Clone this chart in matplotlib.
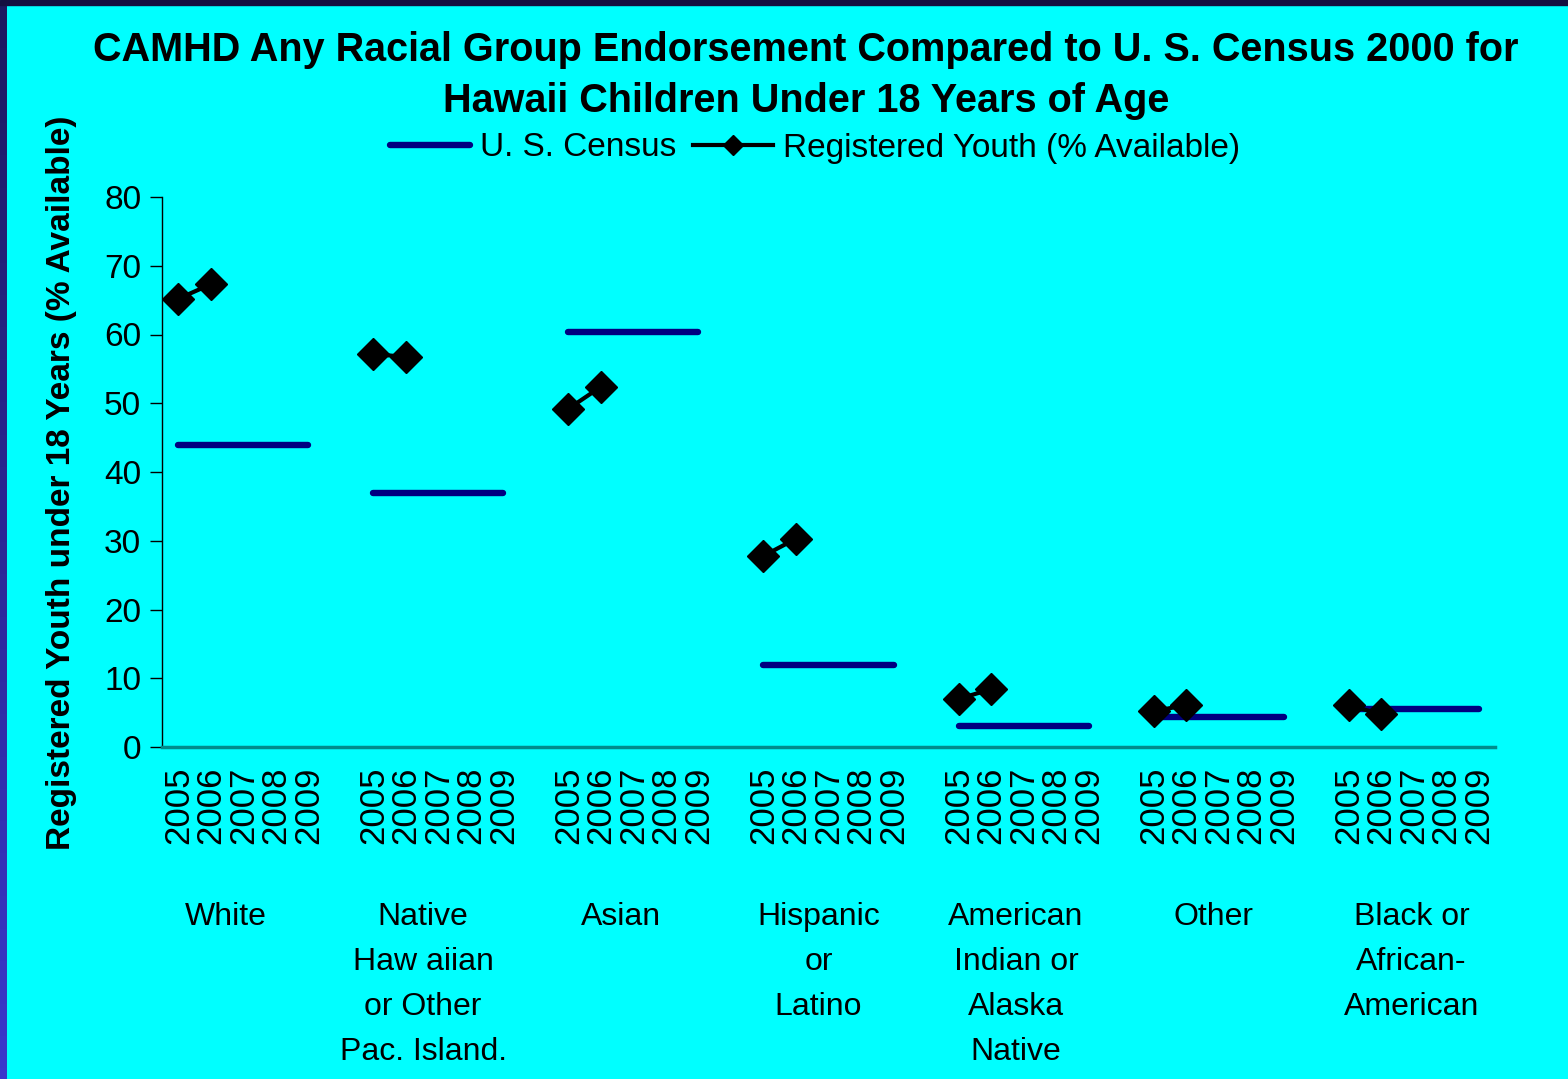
import numpy as np
from matplotlib import pyplot as plt
from matplotlib.patches import Rectangle
from matplotlib.lines import Line2D

plt.rcParams['font.family'] = ['Liberation Sans', 'DejaVu Sans']

# Data
groups = ['White', 'Native\nHaw aiian\nor Other\nPac. Island.', 'Asian',
          'Hispanic\nor\nLatino', 'American\nIndian or\nAlaska\nNative',
          'Other', 'Black or\nAfrican-\nAmerican']
years = ['2005', '2006', '2007', '2008', '2009']
census = [44.0, 36.9, 60.4, 11.9, 3.0, 4.3, 5.6]          # U. S. Census 2000
youth_2005 = [65.2, 57.2, 49.2, 27.8, 7.0, 5.2, 6.1]     # registered youth
youth_2006 = [67.3, 56.7, 52.4, 30.3, 8.4, 6.1, 4.75]

navy = '#000080'
cyan = '#00ffff'

fig = plt.figure(figsize=(15.68, 10.79), dpi=100, facecolor=cyan)

# dark frame on top / left like the slide background
fig.patches.append(Rectangle((0, 1 - 5/1079), 1, 5/1079, transform=fig.transFigure,
                             color='#141040', zorder=0))
band = fig.add_axes([0, 0, 7/1568, 1 - 5/1079])
band.imshow(np.linspace(0, 1, 100).reshape(-1, 1), aspect='auto',
            cmap=plt.matplotlib.colors.LinearSegmentedColormap.from_list('b', ['#1c1a60', '#3a38cc']))
band.axis('off')

ax = fig.add_axes([162/1568, 1 - 747/1079, (1495 - 162)/1568, 550/1079])
ax.set_facecolor(cyan)

nyr = len(years)
step = nyr + 1  # one empty slot between groups
for g in range(len(groups)):
    xs = g*step + np.arange(nyr)
    ax.plot(xs, [census[g]]*nyr, color=navy, lw=4.6, solid_capstyle='round', zorder=2)
    yv = [youth_2005[g], youth_2006[g]] + [np.nan]*(nyr - 2)
    ax.plot(xs, yv, color='black', lw=3, marker='D', ms=16.5, zorder=3)

ax.set_xlim(-0.5, len(groups)*step - 1.5)
ax.set_ylim(0, 80)
ax.set_yticks(np.arange(0, 81, 10))
ax.tick_params(axis='y', labelsize=24, length=9, width=1, direction='out', pad=6)

xt = [g*step + j for g in range(len(groups)) for j in range(nyr)]
ax.set_xticks(xt)
ax.set_xticklabels(years*len(groups), rotation=90, fontsize=25)
ax.tick_params(axis='x', length=0, pad=14)

for s in ['top', 'right']:
    ax.spines[s].set_visible(False)
ax.spines['left'].set_linewidth(1)
ax.spines['bottom'].set_color('#008b8b')
ax.spines['bottom'].set_linewidth(2.5)

# group labels under the years
for g, name in enumerate(groups):
    ax.text(1.45 + g*6.08, -22.5, name, ha='center', va='top', fontsize=23,
            linespacing=1.66)

fig.text(62/1568, 1 - 483/1079, 'Registered Youth under 18 Years (% Available)',
         rotation=90, ha='center', va='center', fontsize=24, fontweight='bold')

fig.text(806/1568, 1 - 75.5/1079,
         'CAMHD Any Racial Group Endorsement Compared to U. S. Census 2000 for\n'
         'Hawaii Children Under 18 Years of Age',
         ha='center', va='center', fontsize=28.5, fontweight='bold', linespacing=1.42)

handles = [Line2D([], [], color=navy, lw=4.6, solid_capstyle='round'),
           Line2D([], [], color='black', lw=3, marker='D', ms=10)]
fig.legend(handles, ['U. S. Census', 'Registered Youth (% Available)'],
           loc='center', bbox_to_anchor=(815/1568, 1 - 148/1079), ncol=2,
           frameon=False, fontsize=24, handlelength=2.4, handletextpad=0.3,
           columnspacing=0.5)

fig.savefig('out.png', dpi=100, facecolor=cyan)
